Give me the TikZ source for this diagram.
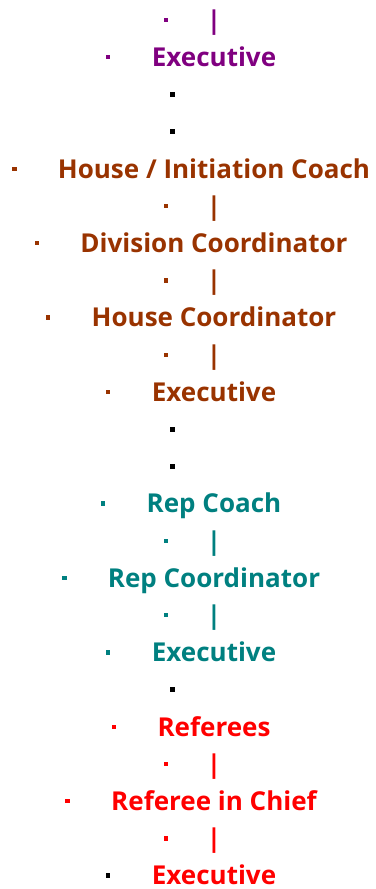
\documentclass[tikz,border=0pt]{standalone}
\usepackage{fontspec}
\setmainfont{Open Sans}
\usetikzlibrary{positioning}
\definecolor{rolepurple}{RGB}{128,0,128}
\definecolor{rolebrown}{RGB}{153,51,0}
\definecolor{roleteal}{RGB}{0,128,128}
\definecolor{rolered}{RGB}{255,0,0}
\begin{document}
\begin{tikzpicture}[x=1pt,y=1pt]
\tikzstyle{role} = [inner sep=0pt, text height=18.6pt, text depth=0pt, font=\fontsize{26}{30}\selectfont\bfseries]
\tikzstyle{bullet} = [rectangle, inner sep=0pt, minimum size=4.5pt, fill, left=41pt]
\tikzstyle{barbullet} = [bullet, left=38pt]
\tikzstyle{dot} = [rectangle, inner sep=0pt, minimum size=5pt, fill=black]
\useasboundingbox (0,0) rectangle (375,-889);
% executive, top
\begin{scope}[rolepurple]
\node[role] at (214,-20) (bar1){|};
\node[barbullet] at (bar1.west) (b1){};
\node[role] at (214,-57.2) (ex1){Executive};
\node[bullet] at (ex1.west) (b2){};
\end{scope}
\node[dot] at (172.5,-94.4) (dot1){};
\node[dot] at (172.5,-131.6) (dot2){};
% house
\begin{scope}[rolebrown]
\node[role] at (214,-168.8) (hic){House / Initiation Coach};
\node[bullet] at (hic.west) (b5){};
\node[role] at (214,-206) (bar2){|};
\node[barbullet] at (bar2.west) (b6){};
\node[role] at (214,-243.2) (divc){Division Coordinator};
\node[bullet] at (divc.west) (b7){};
\node[role] at (214,-280.4) (bar3){|};
\node[barbullet] at (bar3.west) (b8){};
\node[role] at (214,-317.6) (housec){House Coordinator};
\node[bullet] at (housec.west) (b9){};
\node[role] at (214,-354.8) (bar4){|};
\node[barbullet] at (bar4.west) (b10){};
\node[role] at (214,-392) (ex2){Executive};
\node[bullet] at (ex2.west) (b11){};
\end{scope}
\node[dot] at (172.5,-429.2) (dot3){};
\node[dot] at (172.5,-466.4) (dot4){};
% rep
\begin{scope}[roleteal]
\node[role] at (214,-503.6) (repcoach){Rep Coach};
\node[bullet] at (repcoach.west) (b14){};
\node[role] at (214,-540.8) (bar5){|};
\node[barbullet] at (bar5.west) (b15){};
\node[role] at (214,-578) (repc){Rep Coordinator};
\node[bullet] at (repc.west) (b16){};
\node[role] at (214,-615.2) (bar6){|};
\node[barbullet] at (bar6.west) (b17){};
\node[role] at (214,-652.4) (ex3){Executive};
\node[bullet] at (ex3.west) (b18){};
\end{scope}
\node[dot] at (172.5,-689.6) (dot5){};
% referees
\begin{scope}[rolered]
\node[role] at (214,-726.8) (refs){Referees};
\node[bullet] at (refs.west) (b20){};
\node[role] at (214,-764) (bar7){|};
\node[barbullet] at (bar7.west) (b21){};
\node[role] at (214,-801.2) (ric){Referee in Chief};
\node[bullet] at (ric.west) (b22){};
\node[role] at (214,-838.4) (bar8){|};
\node[barbullet] at (bar8.west) (b23){};
\node[role] at (214,-875.6) (ex4){Executive};
\node[bullet, black] at (ex4.west) (b24){};
\end{scope}
\end{tikzpicture}
\end{document}
